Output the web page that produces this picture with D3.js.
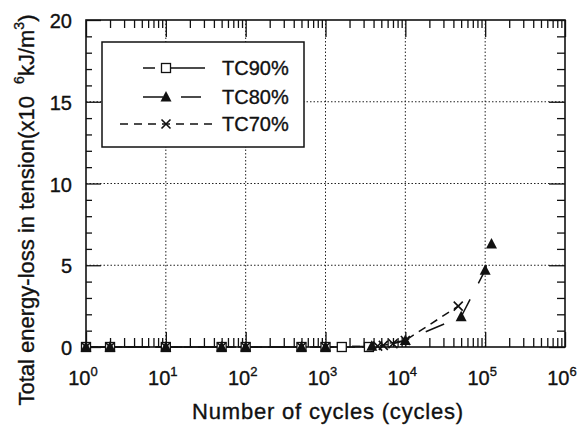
<!DOCTYPE html>
<html><head><meta charset="utf-8">
<script src="https://cdn.jsdelivr.net/npm/d3@7"></script>
<style>body{margin:0;background:#fff}svg{display:block}text{font-family:"Liberation Sans",Arial,sans-serif;fill:#111;stroke:#111;stroke-width:0.35px}</style>
</head><body><svg id="c" width="579" height="425"></svg>
<script>
// ---- data ----
const seriesNames = ["TC90%", "TC80%", "TC70%"];
const tc90X = [1, 2, 10, 50, 100, 500, 1000, 1600, 3500];
const tc90Y = [0, 0, 0, 0, 0, 0, 0, 0, 0];
const tc80X = [1, 2, 10, 50, 100, 500, 1000, 3800, 10000, 50000, 100000, 120000];
const tc80Y = [0, 0, 0, 0, 0, 0, 0, 0.05, 0.4, 1.85, 4.7, 6.3];
const tc70X = [1, 2, 10, 50, 100, 500, 1000, 4500, 5300, 7000, 10000, 46000];
const tc70Y = [0, 0, 0, 0, 0, 0, 0, 0.05, 0.1, 0.2, 0.4, 2.5];
const xTickExp = [0, 1, 2, 3, 4, 5, 6];
const yTicks = [0, 5, 10, 15, 20];

const svg = d3.select("#c");
const L = 86, R = 565, T = 20, B = 347;
const x = d3.scaleLog().domain([1, 1e6]).range([L, R]);
const y = d3.scaleLinear().domain([0, 20]).range([B, T]);

// grid
const g = svg.append("g");
[1e1, 1e2, 1e3, 1e4, 1e5].forEach(v => g.append("line").attr("x1", x(v)).attr("x2", x(v)).attr("y1", T).attr("y2", B)
  .attr("stroke", "#222").attr("stroke-width", 1).attr("stroke-dasharray", "1.5,2"));
[5, 10, 15].forEach(v => g.append("line").attr("x1", L).attr("x2", R).attr("y1", y(v)).attr("y2", y(v))
  .attr("stroke", "#222").attr("stroke-width", 1).attr("stroke-dasharray", "1.5,2"));

// axes with inward ticks
const minorX = [];
for (let e = 0; e < 6; e++) for (let k = 2; k <= 9; k++) minorX.push(k * Math.pow(10, e));
const majorX = xTickExp.map(e => Math.pow(10, e));
const minorY = d3.range(0, 21, 1).filter(v => v % 5 !== 0);

function axis(gen, tr) { return svg.append("g").attr("transform", tr).call(gen).call(a => a.select(".domain").remove()).call(a => a.selectAll("line").attr("stroke", "#111").attr("stroke-width", 1.3)); }
axis(d3.axisBottom(x).tickValues(majorX).tickSize(-15).tickFormat(""), `translate(0,${B})`);
axis(d3.axisBottom(x).tickValues(minorX).tickSize(-9).tickFormat(""), `translate(0,${B})`);
axis(d3.axisTop(x).tickValues(majorX).tickSize(-17).tickFormat(""), `translate(0,${T})`);
axis(d3.axisTop(x).tickValues(minorX).tickSize(-8).tickFormat(""), `translate(0,${T})`);
axis(d3.axisLeft(y).tickValues(yTicks).tickSize(-15).tickFormat(""), `translate(${L},0)`);
axis(d3.axisLeft(y).tickValues(minorY).tickSize(-6).tickFormat(""), `translate(${L},0)`);
axis(d3.axisRight(y).tickValues(yTicks).tickSize(-16).tickFormat(""), `translate(${R},0)`);
axis(d3.axisRight(y).tickValues(minorY).tickSize(-8).tickFormat(""), `translate(${R},0)`);
svg.append("rect").attr("x", L).attr("y", T).attr("width", R - L).attr("height", B - T)
  .attr("fill", "none").attr("stroke", "#111").attr("stroke-width", 1.6);

// tick labels
yTicks.forEach(v => svg.append("text").attr("x", 72).attr("y", y(v) + 8).attr("text-anchor", "end")
  .attr("font-size", 20).text(v));
xTickExp.forEach(e => {
  const t = svg.append("text").attr("x", x(Math.pow(10, e)) - 3).attr("y", 385).attr("text-anchor", "middle").attr("font-size", 20);
  t.append("tspan").text("10");
  t.append("tspan").attr("font-size", 13).attr("dy", -9).text(e);
});

// axis titles
svg.append("text").attr("x", 328).attr("y", 419).attr("text-anchor", "middle").attr("font-size", 22)
  .attr("letter-spacing", 0.8).text("Number of cycles (cycles)");
const yl = svg.append("text").attr("transform", "translate(34,210) rotate(-90)").attr("text-anchor", "middle").attr("font-size", 22);
yl.append("tspan").text("Total energy-loss in tension(x10\u00a0\u00a0");
yl.append("tspan").attr("font-size", 14).attr("dy", -10).text("6");
yl.append("tspan").attr("dy", 10).text("kJ/m");
yl.append("tspan").attr("font-size", 14).attr("dy", -10).text("3");
yl.append("tspan").attr("dy", 10).text(")");

// series
const styles = [
  { xs: tc90X, ys: tc90Y, dash: "12,7,43,7", marker: "square" },
  { xs: tc80X, ys: tc80Y, dash: "20,18", marker: "triangle" },
  { xs: tc70X, ys: tc70Y, dash: "8,6", marker: "x" }
];
const line = d3.line().x(d => x(d[0])).y(d => y(d[1]));
function drawMarker(sel, type, cx, cy) {
  if (type === "square") sel.append("rect").attr("x", cx - 4.5).attr("y", cy - 4.5).attr("width", 9).attr("height", 9)
    .attr("fill", "#fff").attr("stroke", "#111").attr("stroke-width", 1.3);
  else if (type === "triangle") sel.append("path").attr("d", `M${cx},${cy - 6}L${cx + 5.5},${cy + 4.5}L${cx - 5.5},${cy + 4.5}Z`).attr("fill", "#111");
  else sel.append("path").attr("d", `M${cx - 4.5},${cy - 4.5}L${cx + 4.5},${cy + 4.5}M${cx - 4.5},${cy + 4.5}L${cx + 4.5},${cy - 4.5}`)
    .attr("stroke", "#111").attr("stroke-width", 1.6);
}
styles.forEach(s => {
  const pts = s.xs.map((v, i) => [v, s.ys[i]]);
  svg.append("path").attr("d", line(pts)).attr("fill", "none").attr("stroke", "#111").attr("stroke-width", 1.5).attr("stroke-dasharray", s.dash);
});
styles.forEach(s => {
  const mg = svg.append("g");
  s.xs.forEach((v, i) => drawMarker(mg, s.marker, x(v), y(s.ys[i])));
});

// legend
const lg = svg.append("g");
lg.append("rect").attr("x", 102).attr("y", 42).attr("width", 202).attr("height", 105).attr("fill", "#fff").attr("stroke", "#111").attr("stroke-width", 1.5);
const legY = [68, 97, 124];
const legX0 = [143, 143, 120], legX1 = [205, 205, 213];
styles.forEach((s, i) => {
  lg.append("line").attr("x1", legX0[i]).attr("x2", legX1[i]).attr("y1", legY[i]).attr("y2", legY[i])
    .attr("stroke", "#111").attr("stroke-width", 1.5).attr("stroke-dasharray", s.dash);
  drawMarker(lg, s.marker, 166, legY[i]);
  lg.append("text").attr("x", 222).attr("y", legY[i] + 7).attr("font-size", 20).text(seriesNames[i]);
});
</script></body></html>
